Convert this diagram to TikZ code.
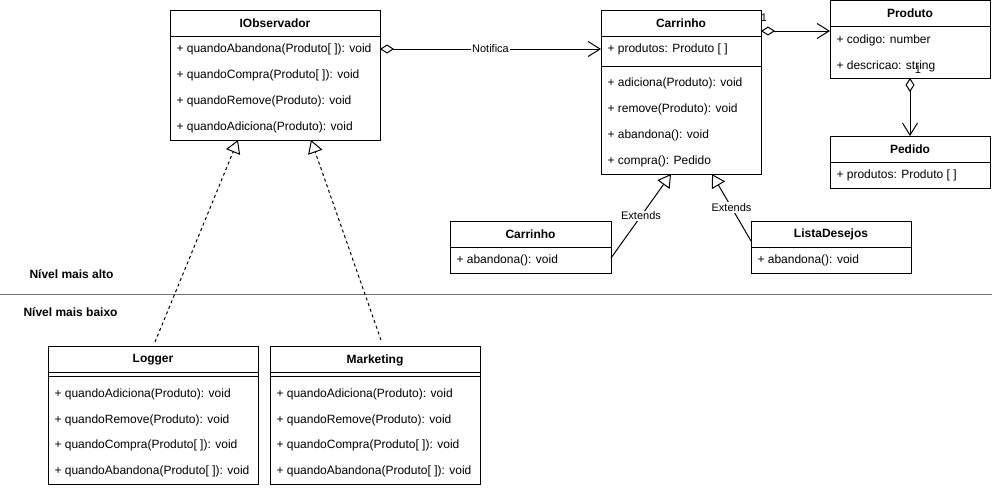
\documentclass[tikz,border=0pt]{standalone}
\usepackage{fontspec}
\setmainfont{Liberation Sans}
\usetikzlibrary{arrows.meta}
\begin{document}
\begin{tikzpicture}[x=1pt,y=-1pt,line width=1pt,
  cls/.style={draw, anchor=north west, inner sep=0pt, outer sep=0pt},
  ttl/.style={font=\fontsize{12}{14}\selectfont\bfseries, inner sep=0pt},
  mem/.style={font=\fontsize{12}{14}\selectfont, anchor=west, inner sep=0pt},
  lbl/.style={font=\fontsize{11}{13}\selectfont, fill=white, inner sep=1pt},
  mult/.style={font=\fontsize{11}{13}\selectfont, inner sep=0pt},
  lvl/.style={font=\fontsize{12}{14}\selectfont\bfseries, anchor=west, inner sep=0pt},
  agg/.style={{Diamond[open,fill=white,length=14pt,width=9pt]}-{Straight Barb[length=12pt,width=15pt]}},
  ext/.style={-{Triangle[open,fill=white,length=13pt,width=15pt]}},
  real/.style={dash pattern=on 3pt off 3pt, -{Triangle[open,fill=white,length=13pt,width=15pt]}}]
\useasboundingbox (0,0) rectangle (992,488);

% IObservador
\node[cls, minimum width=210pt, minimum height=130pt] (iobs) at (170,10) {};
\node[ttl] (iobsT) at (275,23) {IObservador};
\draw (170,36) -- (380,36);
\node[mem] (iobs1) at (176,49) {+ quandoAbandona(Produto[ ]): void};
\node[mem] (iobs2) at (176,75) {+ quandoCompra(Produto[ ]): void};
\node[mem] (iobs3) at (176,101) {+ quandoRemove(Produto): void};
\node[mem] (iobs4) at (176,127) {+ quandoAdiciona(Produto): void};

% Carrinho
\node[cls, minimum width=160pt, minimum height=164pt] (car) at (601,10) {};
\node[ttl] (carT) at (681,23) {Carrinho};
\draw (601,36) -- (761,36);
\node[mem] (car0) at (607,49) {+ produtos: Produto [ ]};
\draw (601,66) -- (761,66);
\node[mem] (car1) at (607,83) {+ adiciona(Produto): void};
\node[mem] (car2) at (607,109) {+ remove(Produto): void};
\node[mem] (car3) at (607,135) {+ abandona(): void};
\node[mem] (car4) at (607,161) {+ compra(): Pedido};

% Produto
\node[cls, minimum width=160pt, minimum height=78pt] (prod) at (830,0) {};
\node[ttl] (prodT) at (910,13) {Produto};
\draw (830,26) -- (990,26);
\node[mem] (prod1) at (836,40) {+ codigo: number};
\node[mem] (prod2) at (836,66) {+ descricao: string};

% Pedido
\node[cls, minimum width=160pt, minimum height=52pt] (ped) at (830,136) {};
\node[ttl] (pedT) at (910,149) {Pedido};
\draw (830,162) -- (990,162);
\node[mem] (ped1) at (836,175) {+ produtos: Produto [ ]};

% Carrinho (subclass)
\node[cls, minimum width=161pt, minimum height=52pt] (sub) at (450,221) {};
\node[ttl] (subT) at (530.5,234) {Carrinho};
\draw (450,247) -- (611,247);
\node[mem] (sub1) at (456,260) {+ abandona(): void};

% ListaDesejos
\node[cls, minimum width=160pt, minimum height=52pt] (lista) at (751,221) {};
\node[ttl] (listaT) at (831,234) {ListaDesejos};
\draw (751,247) -- (911,247);
\node[mem] (lista1) at (757,260) {+ abandona(): void};

% level separator
\draw[gray!90!black] (0,294) -- (992,294);
\node[lvl] (alto) at (29,274) {Nível mais alto};
\node[lvl] (baixo) at (23,312) {Nível mais baixo};

% Logger
\node[cls, minimum width=210pt, minimum height=138pt] (log) at (48,346) {};
\node[ttl] (logT) at (153,360) {Logger};
\draw (48,372) -- (258,372);
\draw (48,376) -- (258,376);
\node[mem] (log1) at (54,394) {+ quandoAdiciona(Produto): void};
\node[mem] (log2) at (54,420) {+ quandoRemove(Produto): void};
\node[mem] (log3) at (54,445) {+ quandoCompra(Produto[ ]): void};
\node[mem] (log4) at (54,471) {+ quandoAbandona(Produto[ ]): void};

% Marketing
\node[cls, minimum width=210pt, minimum height=138pt] (mkt) at (270,346) {};
\node[ttl] (mktT) at (375,360) {Marketing};
\draw (270,372) -- (480,372);
\draw (270,376) -- (480,376);
\node[mem] (mkt1) at (276,394) {+ quandoAdiciona(Produto): void};
\node[mem] (mkt2) at (276,420) {+ quandoRemove(Produto): void};
\node[mem] (mkt3) at (276,445) {+ quandoCompra(Produto[ ]): void};
\node[mem] (mkt4) at (276,471) {+ quandoAbandona(Produto[ ]): void};

% connectors
\draw[agg] (iobs.east |- iobs1) -- node[lbl] {Notifica} (car.west |- iobs1);
\draw[agg] ([yshift=-21pt]car.north east) -- ([yshift=-21pt]car.north east -| prod.west);
\node[mult] at (764,18) {1};
\draw[agg] (prod.south) -- (ped.north);
\node[mult] at (918,70) {1};
\draw[ext] ([yshift=-11pt]sub.east) -- node[lbl, pos=0.5] {Extends} ([xshift=70pt]car.south west);
\draw[ext] ([yshift=-20pt]lista.north west) -- node[lbl, pos=0.5] {Extends} ([xshift=111pt]car.south west);
\draw[real] ([xshift=107pt,yshift=4pt]log.north west) -- ([xshift=68pt]iobs.south west);
\draw[real] ([xshift=111pt,yshift=6pt]mkt.north west) -- ([xshift=141pt]iobs.south west);
\end{tikzpicture}
\end{document}
